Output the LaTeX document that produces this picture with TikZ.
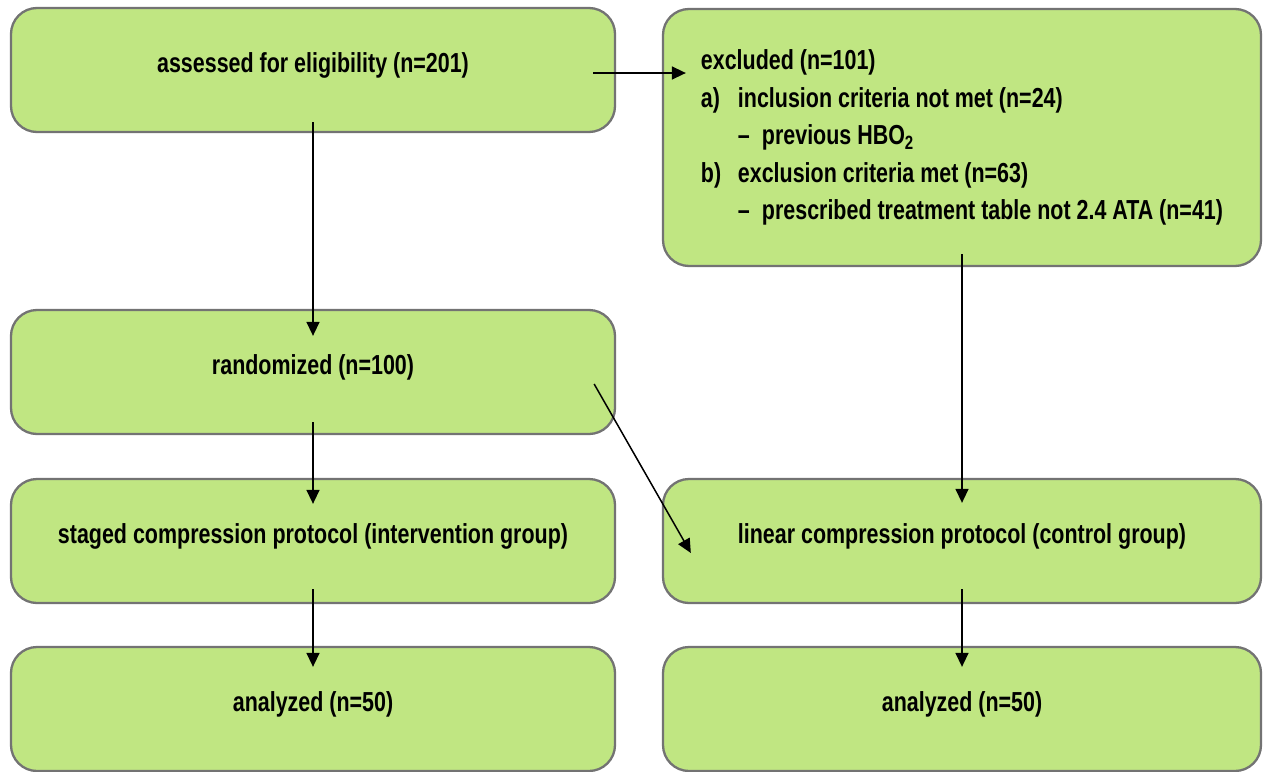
\documentclass[tikz,border=0pt]{standalone}
\usepackage{fontspec}
\setmainfont{Liberation Sans}[FakeStretch=0.78]
\usetikzlibrary{arrows.meta}
\definecolor{cgreen}{HTML}{C0E682}
\definecolor{cgrey}{HTML}{737373}
\tikzset{
  every picture/.style={font=\bfseries\fontsize{27.5}{35.5}\selectfont},
  box/.style={draw=cgrey, fill=cgreen, line width=2.3pt, rounded corners=26pt, minimum width=604pt, minimum height=124pt, inner sep=0pt},
  stepbox/.style={box, text height=20pt, text depth=16pt},
  arrow/.style={-{Triangle[length=14pt, width=13pt]}, line width=1.5pt},
}
\begin{document}
\begin{tikzpicture}[x=1pt, y=-1pt]
  \useasboundingbox (0,0) rectangle (1263,771);
  % left column: enrolment and the intervention arm
  \node[stepbox] (elig) at (313,70) {assessed for eligibility (n=201)};
  \node[stepbox] (rand) at (313,372) {randomized (n=100)};
  \node[stepbox] (staged) at (313,541) {staged compression protocol (intervention group)};
  \node[stepbox] (anastaged) at (313,709) {analyzed (n=50)};
  % right column: exclusions and the control arm
  \node[box, minimum width=598pt, minimum height=257pt, align=left, font=\bfseries\fontsize{27.5}{37.5}\selectfont] (excl) at (962,137.5) {excluded (n=101)\\
    \makebox[37pt][l]{a)}inclusion criteria not met (n=24)\\
    \hspace*{37pt}\makebox[24pt][l]{--}previous HBO\textsubscript{2}\\
    \makebox[37pt][l]{b)}exclusion criteria met (n=63)\\
    \hspace*{37pt}\makebox[24pt][l]{--}prescribed treatment table not 2.4 ATA (n=41)};
  \node[stepbox, minimum width=598pt] (linear) at (962,541) {linear compression protocol (control group)};
  \node[stepbox, minimum width=598pt] (analinear) at (962,709) {analyzed (n=50)};
  % flow
  \coordinate (eligout) at ([xshift=-23pt, yshift=-3pt]elig.east);
  \draw[arrow] (eligout) -- ([xshift=24pt]eligout -| excl.west);
  \draw[arrow] ([yshift=11pt]elig.south) -- ([yshift=-27pt]rand.north);
  \draw[arrow] ([yshift=13pt]rand.south) -- ([yshift=-26pt]staged.north);
  \draw[arrow] ([yshift=15pt]staged.south) -- ([yshift=-21pt]anastaged.north);
  \draw[arrow] ([xshift=-22pt, yshift=-12pt]rand.east) -- ([xshift=29pt, yshift=-12pt]linear.west);
  \draw[arrow] ([yshift=13pt]excl.south) -- ([yshift=-25pt]linear.north);
  \draw[arrow] ([yshift=15pt]linear.south) -- ([yshift=-21pt]analinear.north);
\end{tikzpicture}
\end{document}
